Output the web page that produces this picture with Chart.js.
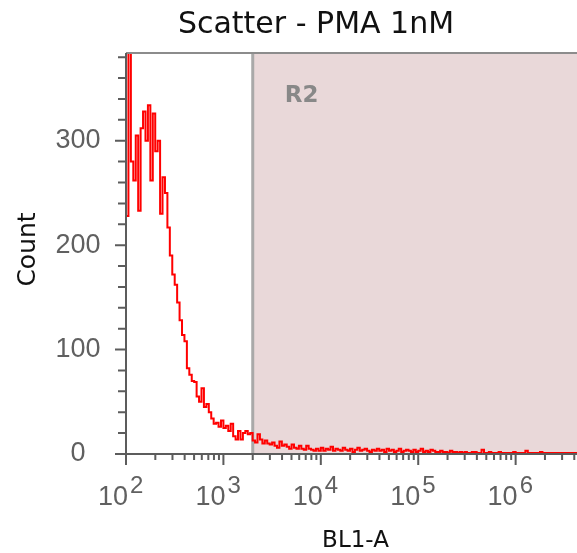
<!DOCTYPE html>
<html>
<head>
<meta charset="utf-8">
<script src="https://cdn.jsdelivr.net/npm/chart.js@4.4.0/dist/chart.umd.min.js"></script>
<style>
    html, body { margin: 0; padding: 0; background: #fff; }
</style>
</head>
<body>
<canvas id="chart" width="577" height="553"></canvas>
<script>
// histogram, one count per log bin
const chartTitle = 'Scatter - PMA 1nM';
const xTitle = 'BL1-A';
const yTitle = 'Count';
const gateName = 'R2';
const gateStart = 2000;
const xDecades = [2, 3, 4, 5, 6];
const yTickValues = [0, 100, 200, 300];
const binLogStart = 2.0;
const binLogWidth = 0.025;
const counts = [
    300, 228, 420, 280, 262, 305, 233, 312, 328, 300,
    334, 262, 326, 290, 300, 230, 265, 250, 217, 190,
    172, 162, 145, 128, 114, 108, 82, 76, 70, 69,
    55, 50, 63, 45, 48, 40, 34, 29, 30, 26,
    32, 25, 27, 22, 29, 17, 14, 22, 14, 20,
    22, 19, 20, 13, 11, 19, 14, 10, 13, 10,
    9, 11, 8, 6, 12, 8, 9, 7, 5, 9,
    6, 5, 8, 5, 4, 8, 5, 4, 3, 5, 3,
    6, 3, 5, 4, 7, 3, 5, 4, 3, 6, 4, 3, 5, 2, 4, 6, 3, 4, 5, 3, 2, 4, 3, 5,
    3, 4, 2, 5, 3, 4, 2, 3, 5, 2, 3, 4,
    3, 2, 4, 2, 3, 5, 2, 3, 2, 4, 3, 2, 2, 3, 2, 2, 1, 3, 2, 2, 1,
    2, 1, 2, 1, 1, 2, 2, 1, 1, 4, 1, 1, 2, 1, 1, 1, 2, 1, 1, 1, 1, 1, 2, 1, 1,
    1, 1, 3, 1, 1, 1, 1, 1, 2, 1, 1, 1, 1, 1, 1, 1, 1, 1, 1, 1, 1, 1, 1, 1
];

const binEdges = counts.map((c, i) => Math.pow(10, binLogStart + i * binLogWidth));

const axisColor = '#5c5c5c';
const tickFont = '27px "Liberation Sans"';
const supFont = '24px "Liberation Sans"';

const decorPlugin = {
    id: 'decor',
    beforeDatasetsDraw(chart) {
        const ctx = chart.ctx;
        const a = chart.chartArea;
        const gx = chart.scales.x.getPixelForValue(gateStart);
        ctx.save();
        ctx.fillStyle = '#e9d8d9';
        ctx.fillRect(gx, a.top, a.right - gx, a.bottom - a.top);
        ctx.strokeStyle = '#a9a9a9';
        ctx.lineWidth = 3;
        ctx.beginPath();
        ctx.moveTo(gx, a.top);
        ctx.lineTo(gx, a.bottom);
        ctx.stroke();
        ctx.fillStyle = '#888';
        ctx.font = 'bold 23px "DejaVu Sans"';
        ctx.textAlign = 'left';
        ctx.textBaseline = 'middle';
        ctx.fillText(gateName, gx + 32, a.top + 43);
        ctx.restore();
    },
    afterDraw(chart) {
        const ctx = chart.ctx;
        const a = chart.chartArea;
        const xs = chart.scales.x;
        const ys = chart.scales.y;
        ctx.save();

        // frame
        ctx.strokeStyle = '#8c8c8c';
        ctx.lineWidth = 2;
        ctx.beginPath();
        ctx.moveTo(a.left, a.top);
        ctx.lineTo(a.right, a.top);
        ctx.stroke();

        ctx.strokeStyle = axisColor;
        ctx.beginPath();
        ctx.moveTo(a.left, a.top);
        ctx.lineTo(a.left, a.bottom + 10);
        ctx.moveTo(a.left - 11, a.bottom);
        ctx.lineTo(a.right, a.bottom);
        ctx.stroke();

        // y ticks
        ctx.beginPath();
        for (let v = 0; v <= ys.max; v += 20) {
            const y = ys.getPixelForValue(v);
            const len = v % 100 === 0 ? 11 : 8;
            ctx.moveTo(a.left - len, y);
            ctx.lineTo(a.left, y);
        }
        // x ticks
        xDecades.forEach(d => {
            for (let k = 1; k <= 9; k++) {
                const v = k * Math.pow(10, d);
                if (v > xs.max) break;
                const x = xs.getPixelForValue(v);
                ctx.moveTo(x, a.bottom);
                ctx.lineTo(x, a.bottom + (k === 1 ? 11 : 6));
            }
        });
        ctx.stroke();

        // tick labels
        ctx.fillStyle = '#606060';
        ctx.font = tickFont;
        ctx.textAlign = 'center';
        ctx.textBaseline = 'middle';
        yTickValues.forEach(v => {
            ctx.fillText(String(v), 78, ys.getPixelForValue(v));
        });
        xDecades.forEach(d => {
            const x = xs.getPixelForValue(Math.pow(10, d));
            ctx.font = tickFont;
            ctx.textAlign = 'right';
            ctx.fillText('10', x + 2, a.bottom + 44);
            ctx.font = supFont;
            ctx.textAlign = 'left';
            ctx.fillText(String(d), x + 4, a.bottom + 32);
        });

        // titles
        ctx.fillStyle = '#111';
        ctx.textAlign = 'center';
        ctx.font = '30px "DejaVu Sans"';
        ctx.fillText(chartTitle, 316, 25);
        ctx.font = '23px "DejaVu Sans"';
        ctx.fillText(xTitle, (a.left + a.right) / 2 + 4, 541);
        ctx.translate(28, (a.top + a.bottom) / 2 - 4);
        ctx.rotate(-Math.PI / 2);
        ctx.font = '25px "DejaVu Sans"';
        ctx.fillText(yTitle, 0, 0);
        ctx.restore();
    }
};

new Chart(document.getElementById('chart'), {
    type: 'line',
    data: {
        datasets: [{
            data: counts.map((c, i) => ({ x: binEdges[i], y: c })),
            borderColor: '#ff0000',
            borderWidth: 2,
            pointRadius: 0,
            stepped: 'after',
            fill: false
        }]
    },
    options: {
        responsive: false,
        animation: false,
        layout: { padding: { top: 53, left: 0, right: 0, bottom: 0 } },
        plugins: { legend: { display: false }, tooltip: { enabled: false } },
        scales: {
            x: {
                type: 'logarithmic',
                min: 100,
                max: Math.pow(10, 6.63),
                ticks: { display: false },
                grid: { display: false },
                border: { display: false },
                afterFit: s => { s.height = 99; }
            },
            y: {
                min: 0,
                max: 384,
                ticks: { display: false },
                grid: { display: false },
                border: { display: false },
                afterFit: s => { s.width = 126; }
            }
        }
    },
    plugins: [decorPlugin]
});
</script>
</body>
</html>
